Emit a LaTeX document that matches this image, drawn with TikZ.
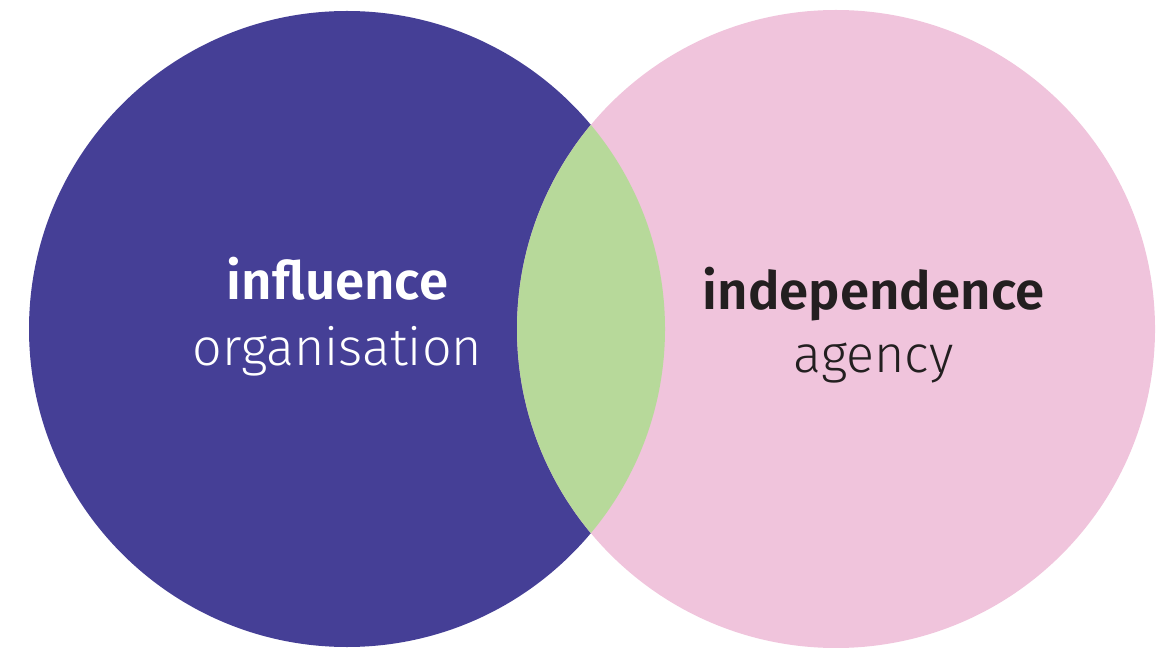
\documentclass[tikz,border=0pt]{standalone}
\usepackage{fontspec}
\setmainfont{Fira Sans}
\newfontfamily\boldface{Fira Sans SemiBold}
\newfontfamily\lightface{Fira Sans Light}
\definecolor{inkblue}{RGB}{69,63,150}
\definecolor{softpink}{RGB}{240,196,220}
\definecolor{lensgreen}{RGB}{183,217,154}
\definecolor{darkink}{RGB}{35,31,32}
\tikzset{
  head/.style={anchor=base,font=\boldface\fontsize{15}{17}\selectfont},
  sub/.style={anchor=base,font=\lightface\fontsize{14.8}{17}\selectfont}
}
\begin{document}
\begin{tikzpicture}
  \useasboundingbox (0,0) rectangle (11.67,-6.47);
  \fill[inkblue] (3.47,-3.29) circle (3.18);
  \fill[softpink] (8.36,-3.29) circle (3.19);
  \begin{scope}
    \clip (3.47,-3.29) circle (3.18);
    \fill[lensgreen] (8.36,-3.29) circle (3.19);
  \end{scope}
  \node[head,text=white] (infl) at (3.375,-3.00) {influence};
  \node[sub,text=white] (org) at (3.375,-3.65) {organisation};
  \node[head,text=darkink] (indep) at (8.735,-3.10) {independence};
  \node[sub,text=darkink] (agcy) at (8.735,-3.73) {agency};
\end{tikzpicture}
\end{document}
